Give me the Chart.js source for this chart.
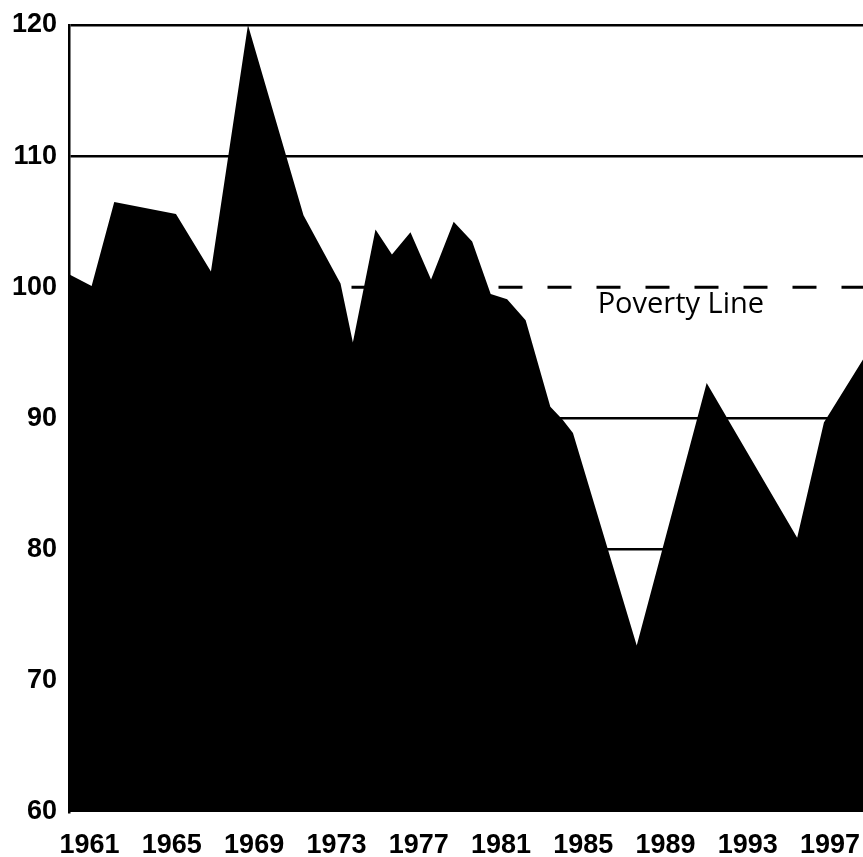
<!DOCTYPE html>
<html>
<head>
<meta charset="utf-8">
<script src="https://cdn.jsdelivr.net/npm/chart.js@4.4.1/dist/chart.umd.min.js"></script>
<style>
  html, body { margin: 0; padding: 0; background: #ffffff; }
  #wrap { width: 863px; height: 857px; }
</style>
</head>
<body>
<div id="wrap"><canvas id="c" width="863" height="857"></canvas></div>
<script>
// Years (x positions of the outline's vertices)
const years = [1960.0, 1961.1, 1962.2, 1965.2, 1966.9, 1968.7, 1971.4, 1973.2, 1973.8,
  1974.9, 1975.7, 1976.6, 1977.6, 1978.7, 1979.6, 1980.5, 1981.3, 1982.2, 1983.4,
  1984.0, 1984.5, 1987.6, 1991.0, 1995.4, 1996.7, 1998.6];
// Index values at those vertices
const values = [101.0, 100.1, 106.5, 105.6, 101.2, 120.0, 105.5, 100.3, 95.8,
  104.4, 102.5, 104.2, 100.6, 105.0, 103.5, 99.5, 99.1, 97.5, 90.9,
  89.9, 88.9, 72.7, 92.7, 80.9, 89.7, 94.5];
// Tick labels
const xTickYears = [1961, 1965, 1969, 1973, 1977, 1981, 1985, 1989, 1993, 1997];
const yTicks = [60, 70, 80, 90, 100, 110, 120];
// Poverty line
const povertyLevel = 100;
const povertyLabel = 'Poverty Line';
const povertyLabelYear = 1985.7;
const povertyLabelValue = 98.05;

const xMin = 1960, xMax = 1998.6;

const areaData = years.map((y, i) => ({ x: y, y: values[i] }));
const povertyData = [{ x: xMin, y: povertyLevel }, { x: xMax, y: povertyLevel }];

const tickFont = { family: '"Liberation Sans", Arial, sans-serif', size: 27, weight: 'bold' };

const labelPlugin = {
  id: 'povertyLabel',
  afterDatasetsDraw(chart) {
    const { ctx, scales } = chart;
    const px = scales.x.getPixelForValue(povertyLabelYear);
    const py = scales.y.getPixelForValue(povertyLabelValue);
    ctx.save();
    ctx.fillStyle = '#000';
    ctx.font = '29px "Open Sans", "Noto Sans", sans-serif';
    ctx.textAlign = 'left';
    ctx.textBaseline = 'alphabetic';
    ctx.fillText(povertyLabel, px, py);
    ctx.restore();
  }
};

new Chart(document.getElementById('c'), {
  type: 'line',
  data: {
    datasets: [
      {
        label: 'Index',
        data: areaData,
        borderWidth: 0,
        borderColor: '#000',
        backgroundColor: '#000',
        fill: 'start',
        pointRadius: 0,
        tension: 0,
        order: 1
      },
      {
        label: 'Poverty line',
        data: povertyData,
        borderColor: '#000',
        borderWidth: 3,
        borderDash: [24, 25],
        borderDashOffset: 11.5,
        fill: false,
        pointRadius: 0,
        order: 2
      }
    ]
  },
  options: {
    responsive: false,
    animation: false,
    devicePixelRatio: 1,
    layout: { padding: { top: 25, right: 0, left: 0, bottom: 0 } },
    plugins: { legend: { display: false }, tooltip: { enabled: false } },
    scales: {
      x: {
        type: 'linear',
        min: xMin,
        max: xMax,
        afterBuildTicks(scale) { scale.ticks = xTickYears.map(v => ({ value: v })); },
        afterFit(scale) { scale.height = 45; scale.paddingLeft = 0; scale.paddingRight = 0; },
        ticks: {
          color: '#000',
          font: tickFont,
          padding: 17,
          maxRotation: 0,
          autoSkip: false,
          callback: (v) => String(v)
        },
        grid: { display: false, drawTicks: false },
        border: { display: false }
      },
      y: {
        type: 'linear',
        min: 60,
        max: 120,
        afterBuildTicks(scale) { scale.ticks = yTicks.map(v => ({ value: v })); },
        afterFit(scale) { scale.width = 69; scale.paddingTop = 0; scale.paddingBottom = 0; },
        ticks: {
          color: '#000',
          font: tickFont,
          padding: 12,
          callback: (v) => String(v)
        },
        grid: {
          drawTicks: false,
          lineWidth: 2.5,
          color: (ctx) => {
            const v = ctx.tick ? ctx.tick.value : null;
            return (v === 100 || v === 60) ? 'rgba(0,0,0,0)' : '#000';
          }
        },
        border: { display: true, color: '#000', width: 2.5 }
      }
    }
  },
  plugins: [labelPlugin]
});
</script>
</body>
</html>
